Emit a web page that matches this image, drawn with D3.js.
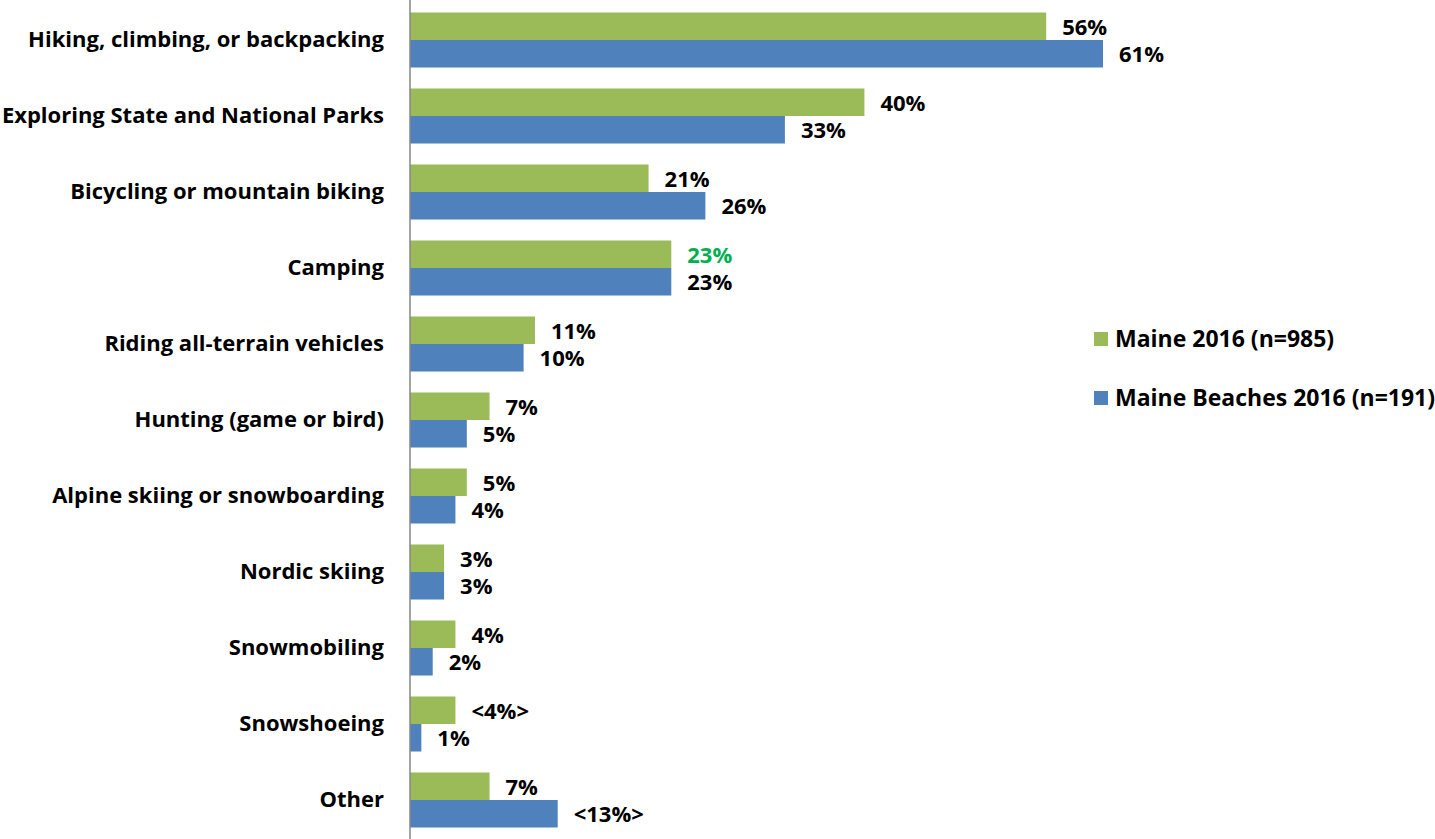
<!DOCTYPE html>
<html>
<head>
<meta charset="utf-8">
<script src="https://cdn.jsdelivr.net/npm/d3@7"></script>
<style>
  html, body { margin: 0; padding: 0; background: #fff; }
  svg { display: block; font-family: "Open Sans", Lato, sans-serif; font-weight: bold; }
</style>
</head>
<body>
<svg id="chart" width="1435" height="839"></svg>
<script>
// Outdoor activities, share of respondents
const categories = [
  "Hiking, climbing, or backpacking",
  "Exploring State and National Parks",
  "Bicycling or mountain biking",
  "Camping",
  "Riding all-terrain vehicles",
  "Hunting (game or bird)",
  "Alpine skiing or snowboarding",
  "Nordic skiing",
  "Snowmobiling",
  "Snowshoeing",
  "Other"
];
const maine2016 = [56, 40, 21, 23, 11, 7, 5, 3, 4, 4, 7];
const beaches2016 = [61, 33, 26, 23, 10, 5, 4, 3, 2, 1, 13];
const maineLabels = ["56%", "40%", "21%", "23%", "11%", "7%", "5%", "3%", "4%", "<4%>", "7%"];
const beachLabels = ["61%", "33%", "26%", "23%", "10%", "5%", "4%", "3%", "2%", "1%", "<13%>"];
const seriesNames = ["Maine 2016 (n=985)", "Maine Beaches 2016 (n=191)"];
const highlightIndex = 3; // Camping label for Maine 2016 drawn in green

const colors = ["#9bbb59", "#4f81bd"];
const FONT = "'Open Sans', Lato, sans-serif";

const svg = d3.select("#chart");
const x = d3.scaleLinear().domain([0, 61]).range([410, 1103]);
const y = d3.scaleBand().domain(categories).range([2, 838]).paddingInner(0.276).paddingOuter(0.138);
const sub = d3.scaleBand().domain([0, 1]).range([0, y.bandwidth()]);

const rows = categories.map((c, i) => ({
  cat: c,
  vals: [
    { s: 0, v: maine2016[i], label: maineLabels[i], hl: i === highlightIndex },
    { s: 1, v: beaches2016[i], label: beachLabels[i], hl: false }
  ]
}));

const g = svg.selectAll("g.row").data(rows).join("g")
  .attr("class", "row")
  .attr("transform", d => `translate(0,${y(d.cat)})`);

g.selectAll("rect").data(d => d.vals).join("rect")
  .attr("x", x(0))
  .attr("y", d => sub(d.s))
  .attr("width", d => x(d.v) - x(0))
  .attr("height", sub.bandwidth())
  .attr("fill", d => colors[d.s]);

g.selectAll("text.val").data(d => d.vals).join("text")
  .attr("class", "val")
  .attr("x", d => x(d.v) + 16)
  .attr("y", d => sub(d.s) + sub.bandwidth() / 2 + (d.s === 0 ? 1 : 1))
  .attr("dy", "0.35em")
  .attr("font-size", 22)
  .attr("fill", d => d.hl ? "#00b050" : "#000")
  .text(d => d.label);

// category axis
const yAxis = d3.axisLeft(y).tickSize(0).tickPadding(26);
const ax = svg.append("g").attr("transform", `translate(${x(0)},0)`).call(yAxis);
ax.select(".domain").remove();
ax.selectAll("text")
  .attr("font-family", FONT)
  .attr("font-weight", "bold")
  .attr("font-size", 22)
  .attr("fill", "#000");

svg.append("line")
  .attr("x1", x(0)).attr("x2", x(0))
  .attr("y1", 0).attr("y2", 839)
  .attr("stroke", "#868686").attr("stroke-width", 1.5);

// legend
const legend = svg.append("g").attr("transform", "translate(1094,0)");
const lg = legend.selectAll("g").data(seriesNames).join("g")
  .attr("transform", (d, i) => `translate(0,${339 + i * 59})`);
lg.append("rect").attr("x", 0).attr("y", -7).attr("width", 14).attr("height", 14)
  .attr("fill", (d, i) => colors[i]);
lg.append("text").attr("x", 21).attr("dy", "0.35em").attr("font-size", 23)
  .text(d => d);
</script>
</body>
</html>
